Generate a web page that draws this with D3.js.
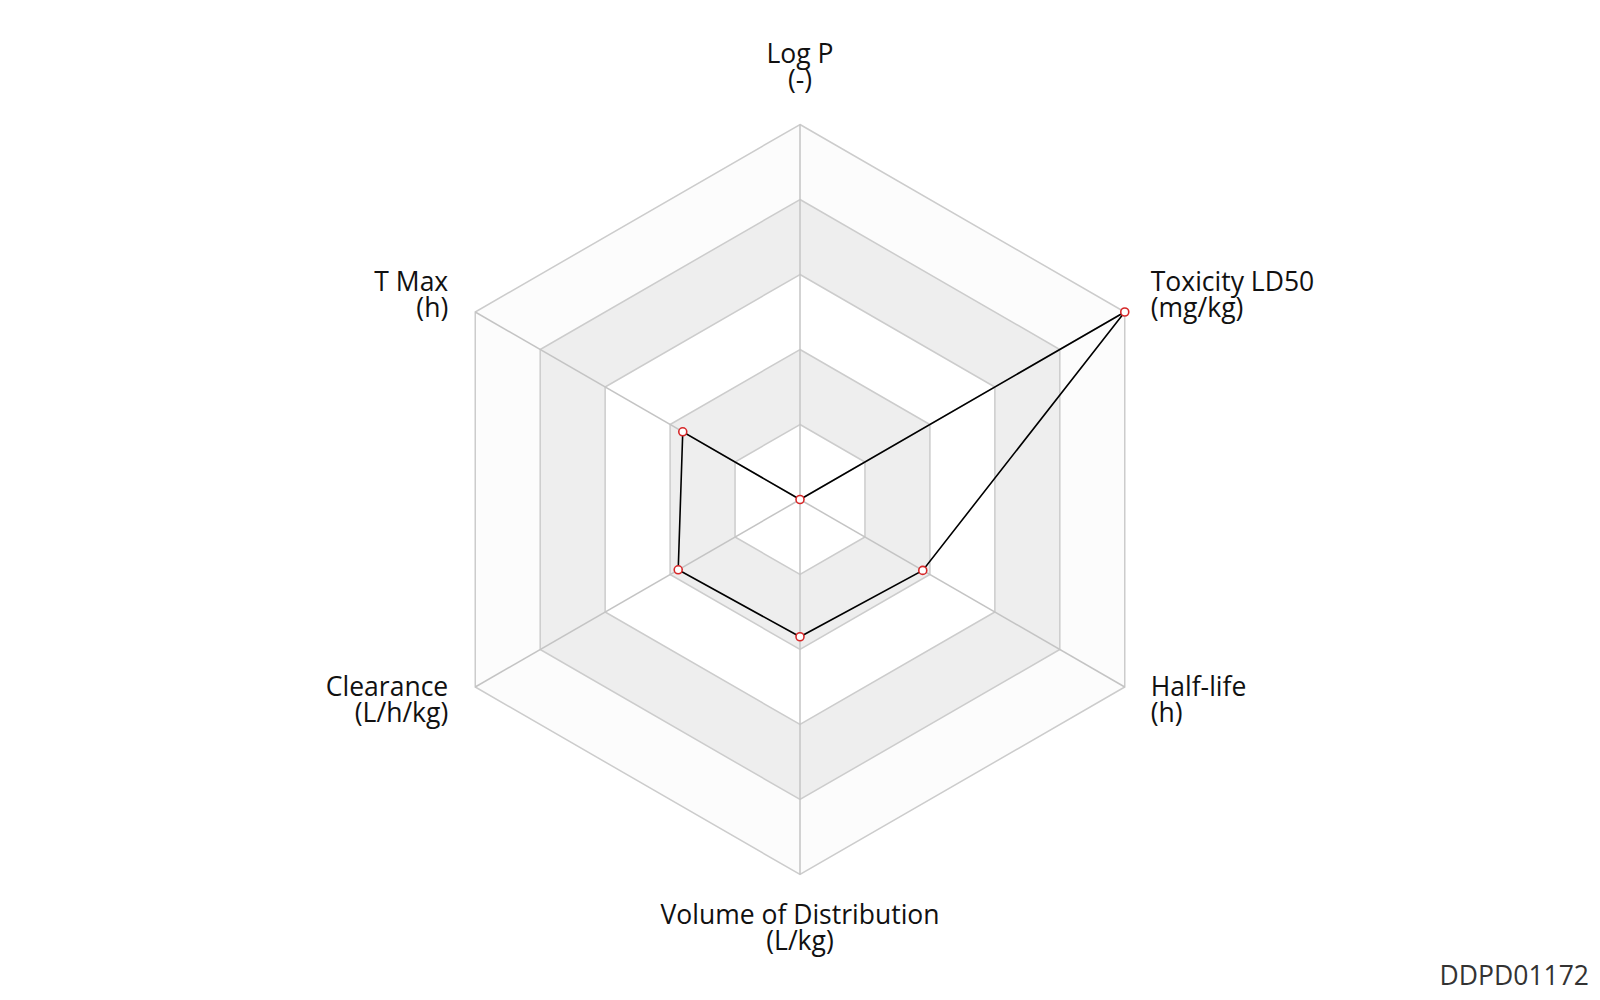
<!DOCTYPE html>
<html><head><meta charset="utf-8">
<script src="https://cdn.jsdelivr.net/npm/d3@7"></script>
<style>body{margin:0;background:#fff;} svg{display:block;}</style>
</head><body>
<svg id="chart" width="1600" height="1000"></svg>
<script>
const axes = ["Log P", "Toxicity LD50", "Half-life", "Volume of Distribution", "Clearance", "T Max"];
const units = ["(-)", "(mg/kg)", "(h)", "(L/kg)", "(L/h/kg)", "(h)"];
const values = [0, 1.0, 0.378, 0.366, 0.375, 0.361];
const levels = [0.2, 0.4, 0.6, 0.8, 1.0];
const code = "DDPD01172";

const svg = d3.select("#chart");
const cx = 800, cy = 499.5, R = 375;
const r = d3.scaleLinear().domain([0, 1]).range([0, R]);
const ang = d3.scaleLinear().domain([0, axes.length]).range([0, 2 * Math.PI]);
const pt = (i, v) => [cx + r(v) * Math.sin(ang(i)), cy - r(v) * Math.cos(ang(i))];
const g = svg.append("g");

const bandFill = ["#fcfcfc", "#eeeeee", "#ffffff", "#eeeeee", "#ffffff"];
levels.slice().reverse().forEach((lv, k) => {
  g.append("polygon")
    .attr("points", axes.map((_, i) => pt(i, lv).join(",")).join(" "))
    .attr("fill", bandFill[k]).attr("stroke", "#cccccc").attr("stroke-width", 1.5);
});
axes.forEach((_, i) => {
  const [x, y] = pt(i, 1);
  g.append("line").attr("x1", cx).attr("y1", cy).attr("x2", x).attr("y2", y)
    .attr("stroke", "#c4c4c4").attr("stroke-width", 1.5);
});

const line = d3.line().curve(d3.curveLinearClosed);
g.append("path").attr("d", line(values.map((v, i) => pt(i, v))))
  .attr("fill", "none").attr("stroke", "#000").attr("stroke-width", 1.6);
g.selectAll("circle.pt").data(values).enter().append("circle")
  .attr("cx", (v, i) => pt(i, v)[0]).attr("cy", (v, i) => pt(i, v)[1])
  .attr("r", 4).attr("fill", "#fff").attr("stroke", "#d62728").attr("stroke-width", 1.6);

const font = "'Open Sans', 'Noto Sans', sans-serif";
const fs = 26.5;
const offs = [
  {dx: 0, dy: -62, anchor: "middle"},
  {dx: 26, dy: -21, anchor: "start"},
  {dx: 26, dy: 9, anchor: "start"},
  {dx: 0, dy: 49, anchor: "middle"},
  {dx: -27, dy: 9, anchor: "end"},
  {dx: -27, dy: -21, anchor: "end"}
];
axes.forEach((a, i) => {
  const [x, y] = pt(i, 1);
  const o = offs[i];
  const t = g.append("text").attr("x", x + o.dx).attr("y", y + o.dy)
    .attr("text-anchor", o.anchor).attr("font-family", font).attr("font-size", fs).attr("fill", "#111");
  t.append("tspan").attr("x", x + o.dx).text(a);
  t.append("tspan").attr("x", x + o.dx).attr("dy", 26).text(units[i]);
});

svg.append("text").attr("x", 1589).attr("y", 985).attr("text-anchor", "end")
  .attr("font-family", font).attr("font-size", fs).attr("fill", "#333").text(code);
</script>
</body></html>
